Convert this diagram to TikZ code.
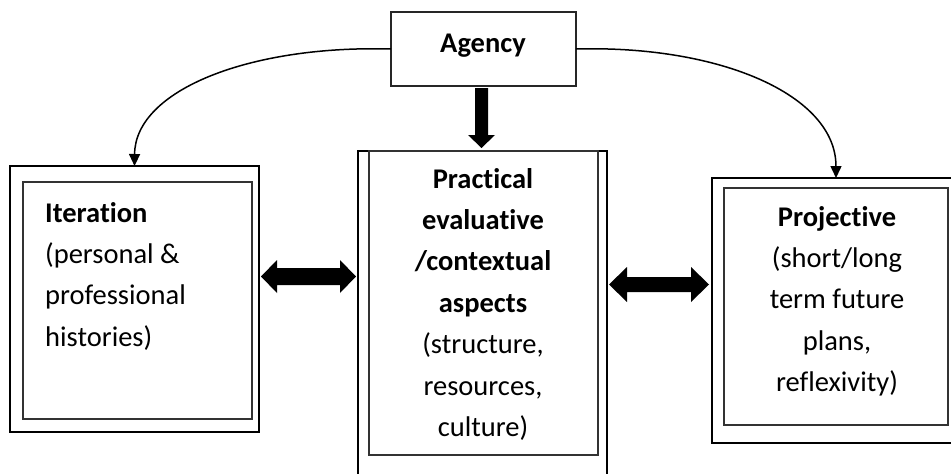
\documentclass[tikz,border=0pt]{standalone}
\usepackage{fontspec}
\setmainfont{Carlito}[Ligatures={NoCommon}]
\usetikzlibrary{arrows.meta}
\begin{document}
\begin{tikzpicture}[x=1pt,y=-1pt,
  outerbox/.style={draw=black,line width=2.2pt,inner sep=0pt,outer sep=0pt},
  innerbox/.style={draw=black!80,line width=1.2pt,inner sep=0pt,outer sep=0pt},
  agencybox/.style={draw=black!85,line width=1.1pt,inner sep=0pt,outer sep=0pt},
  txt/.style={inner sep=0pt,font=\fontsize{28.5}{41.4}\selectfont},
  curvearrow/.style={line width=1.5pt,-{Triangle[length=12pt,width=11pt]}},
  blockarrow/.style={fill=black}]
\useasboundingbox (0,0) rectangle (951,474);
\clip (0,0) rectangle (951,474);
% boxes
\node[agencybox,minimum width=185pt,minimum height=74pt] (agency) at (483.5,49) {};
\node[outerbox,minimum width=249pt,minimum height=266pt] (iterO) at (134.5,299) {};
\node[innerbox,minimum width=229pt,minimum height=237pt] (iterI) at (137.5,300.5) {};
\node[outerbox,minimum width=249pt,minimum height=340pt] (midO) at (482.5,321) {};
\node[innerbox,minimum width=229pt,minimum height=304pt] (midI) at (483.5,303) {};
\node[outerbox,minimum width=248pt,minimum height=265pt] (projO) at (836,310.5) {};
\node[innerbox,minimum width=224pt,minimum height=237pt] (projI) at (836,306.5) {};
% texts
\node[txt,anchor=base] (agencytxt) at (483,52) {\textbf{Agency}};
\node[txt,anchor=north west,align=left] (itertxt) at (45,193)
  {\strut\textbf{Iteration}\\\strut(personal \&\\\strut professional\\\strut histories)};
\node[txt,anchor=north,align=center] (midtxt) at (483,159)
  {\strut\textbf{Practical}\\\strut\textbf{evaluative}\\\strut\textbf{/contextual}\\\strut\textbf{aspects}\\\strut(structure,\\\strut resources,\\\strut culture)};
\node[txt,anchor=north,align=center] (projtxt) at (837,197)
  {\strut\textbf{Projective}\\\strut(short/long\\\strut term future\\\strut plans,\\\strut reflexivity)};
% curved connectors
\draw[curvearrow] (agency.west) .. controls (250,45) and (135,90) .. (iterO.north);
\draw[curvearrow] (agency.east) .. controls (720,45) and (836,95) .. (projO.north);
% block arrows
\coordinate (dtip) at (481.5,148);
\fill[blockarrow] (dtip) -- ++(-13.5,-13) -- ++(7,0) -- ++(0,-47) -- ++(13,0) -- ++(0,47) -- ++(7,0) -- cycle;
\coordinate (ltip) at (261,276.5);
\fill[blockarrow] (ltip) -- ++(16,-16.5) -- ++(0,8) -- ++(63,0) -- ++(0,-8) -- ++(16,16.5) -- ++(-16,16.5) -- ++(0,-8) -- ++(-63,0) -- ++(0,8) -- cycle;
\coordinate (rtip) at (609,284.5);
\fill[blockarrow] (rtip) -- ++(18,-17.5) -- ++(0,10) -- ++(64,0) -- ++(0,-10) -- ++(18,17.5) -- ++(-18,17.5) -- ++(0,-10) -- ++(-64,0) -- ++(0,10) -- cycle;
\end{tikzpicture}
\end{document}
